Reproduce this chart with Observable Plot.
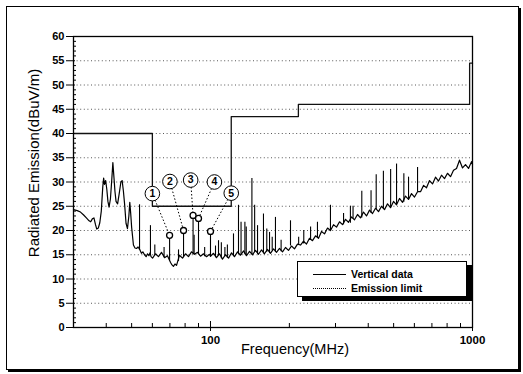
<!DOCTYPE html>
<html>
<head>
<meta charset="utf-8">
<script src="https://cdn.jsdelivr.net/npm/d3@7"></script>
<script src="https://cdn.jsdelivr.net/npm/@observablehq/plot@0.6"></script>
<style>
  html, body { margin: 0; padding: 0; background: #fff; }
  #wrap { position: relative; width: 523px; height: 374px; overflow: hidden; font-family: "Liberation Sans", Arial, sans-serif; }
  #wrap svg { position: absolute; left: 0; top: 0; }
  #border { position: absolute; left: 6px; top: 6px; width: 511px; height: 362px; border: 1px solid #000; box-shadow: 2px 2px 0 #000; }
  #legend { position: absolute; left: 297px; top: 261px; width: 168px; height: 34px; border: 1px solid #000; background: #fff; box-shadow: 5px 4px 0 #000; }
  #legend .ln { position: absolute; left: 15px; width: 33px; height: 0; }
  #legend .tx { position: absolute; left: 53px; font-size: 10.5px; font-weight: bold; line-height: 12px; color: #000; }
  [aria-label="y-axis tick label"] text, [aria-label="x-axis tick label"] text { font-weight: bold; }
</style>
</head>
<body>
<div id="wrap">
  <div id="border"></div>
  <div id="chart"></div>
  <div id="legend">
    <div class="ln" style="top:12px;border-top:1px solid #000"></div>
    <div class="tx" style="top:6px">Vertical data</div>
    <div class="ln" style="top:26px;border-top:1px dotted #000"></div>
    <div class="tx" style="top:20px">Emission limit</div>
  </div>
</div>
<script>
// ---- Data ----
const curveFreq = [
  30,31,31.9,32.8,33.6,34.4,34.9,35.4,35.9,36.4,36.8,37.3,37.8,38.3,38.8,39.1,39.4,39.8,40.2,40.6,
  41.0,41.5,42.0,42.4,42.8,43.2,43.6,44.2,44.8,45.5,46.0,46.5,47.0,47.6,48.2,48.8,49.2,49.6,50.0,50.8,
  51.5,52.2,52.9,53.8,54.5,55.2,56.0,56.8,57.5,58.2,58.8,59.3,
  60.1,61.7,63.3,65.0,66.8,68.5,70.4,71.3,72.2,73.2,74.2,75.2,76.1,78.2,80.3,82.4,84.6,86.9,89.2,91.6,
  94.0,96.6,99.1,
  100,102.7,105.4,108.2,111.1,114.1,117.2,120.3,123.5,126.8,130.2,133.7,137.2,140.9,144.7,148.5,152.5,156.6,160.7,165.0,
  169.4,174.0,178.6,183.4,188.3,193.3,198.5,203.8,209.2,214.8,
  220.6,226.5,232.5,238.7,245.1,251.7,258.4,265.3,272.4,279.7,287.1,294.8,302.7,310.8,319.1,327.6,336.3,345.3,354.5,364.0,
  373.8,383.7,394.0,404.5,415.3,426.4,437.8,449.5,461.5,473.8,486.5,499.5,512.8,526.5,540.6,555.0,569.9,585.1,600.7,616.8,
  633.3,650.2,667.5,685.4,703.7,722.5,741.8,761.6,781.9,802.8,824.3,846.3,868.9,892.1,916.0,940.4,965.6,991.4,1000
];
const curveLevel = [
  24.3,24.1,23.8,23.2,22.6,22.0,21.8,22.4,22.6,21.2,20.3,20.5,21.6,24.0,29.0,30.8,29.5,30.3,28.5,26.0,
  24.8,26.5,30.5,34.0,31.0,28.0,26.0,25.5,27.5,30.0,30.3,28.2,25.5,21.5,20.4,23.0,25.8,23.5,20.7,17.0,
  16.4,16.3,16.6,16.0,15.3,15.6,15.0,14.6,15.2,14.8,15.4,14.6,
  14.3,15.2,14.6,15.5,14.4,14.8,13.4,12.9,12.6,13.1,12.8,13.9,14.9,14.3,15.2,14.6,15.6,15.1,15.5,14.7,
  15.2,14.6,15.1,
  14.7,15.3,14.4,15.2,14.1,15.0,14.3,15.4,14.6,15.6,14.9,15.8,14.8,15.7,15.0,15.9,15.1,16.0,15.2,16.1,
  15.3,16.2,15.5,16.3,15.6,16.5,15.9,16.8,16.2,17.2,
  17.0,17.8,17.2,18.4,17.9,18.9,18.4,19.8,19.3,20.5,20.0,21.2,20.7,21.8,21.2,22.3,21.7,22.8,22.2,23.3,
  22.6,23.8,23.0,24.2,23.5,24.6,23.9,25.0,24.3,25.5,24.7,26.0,25.3,26.6,25.8,27.1,26.4,27.6,26.9,28.0,
  28.0,29.3,28.8,30.3,29.6,31.0,30.2,31.4,30.7,31.8,31.1,32.4,32.8,34.5,32.9,33.6,32.8,34.2,33.6
];
// narrow spikes: frequency, foot level, peak level
const spikeFreq = [53.6,59.0,61.3,66.5,69.8,75.5,78.9,85.8,86.6,90.0,95.0,100.0,104.5,107.3,110.0,113.5,116.0,122.4,127.9,130.8,
  135.3,136.9,143.9,147.4,151.2,159.3,164.0,168.0,172.0,177.0,186.0,202.0,217.0,227.0,241.0,256.0,287.0,322.0,342.0,350.0,
  378.0,410.0,429.0,457.0,487.0,513.0,547.0,570.0,617.0];
const spikeLow = [16.0,15.0,14.8,14.4,13.8,13.6,14.4,15.0,15.0,15.0,14.6,14.5,14.4,14.8,14.2,14.6,14.3,14.6,15.0,14.9,
  15.0,14.8,15.0,15.5,15.1,15.2,15.5,15.3,15.8,15.5,15.6,16.8,17.0,17.2,18.0,18.4,20.0,21.2,21.5,22.3,
  22.6,23.5,24.3,24.5,24.7,25.3,25.8,26.4,28.0];
const spikeHigh = [25.3,21.0,17.0,16.5,19.0,16.0,20.0,23.1,19.0,22.5,16.5,19.8,16.8,17.9,17.5,16.5,17.0,19.3,25.2,21.7,
  21.7,20.7,30.7,25.2,21.0,23.4,20.3,19.6,18.6,22.7,18.0,22.0,18.6,20.0,20.7,21.7,25.2,23.5,25.0,25.0,
  28.1,28.2,31.5,32.2,32.6,33.7,31.7,31.0,33.0];
// emission limit
const limitFreq = [30, 60, 60, 120, 120, 216.5, 216.5, 975, 975, 1000];
const limitLevel = [40, 40, 25, 25, 43.5, 43.5, 46, 46, 54.5, 54.5];
// numbered callouts
const calloutNum = ["1", "2", "3", "4", "5"];
const calloutFreq = [60, 70, 84, 103.5, 120];
const calloutLevel = [27.6, 30.1, 30.4, 30.0, 27.7];
const markerFreq = [69.8, 78.9, 85.8, 90.0, 100];
const markerLevel = [19.0, 20.0, 23.1, 22.5, 19.8];
// axes
const yTicks = [0, 5, 10, 15, 20, 25, 30, 35, 40, 45, 50, 55, 60];
const gridY = [5, 10, 15, 20, 25, 30, 35, 40, 45, 50, 55];
const yMinor = d3.range(0, 61).filter(d => d % 5 !== 0);
const xMajor = [100, 1000];
const xMinor = [40, 50, 60, 70, 80, 90, 200, 300, 400, 500, 600, 700, 800, 900];

const curve = curveFreq.map((f, i) => ({f, v: curveLevel[i]}));
const spikes = spikeFreq.map((f, i) => ({f, lo: spikeLow[i], hi: spikeHigh[i]}));
const limit = limitFreq.map((f, i) => ({f, v: limitLevel[i]}));
const callouts = calloutNum.map((n, i) => ({n, f: calloutFreq[i], v: calloutLevel[i], mf: markerFreq[i], mv: markerLevel[i]}));

const chart = Plot.plot({
  width: 523, height: 374,
  marginLeft: 73, marginRight: 51, marginTop: 36, marginBottom: 47,
  style: {fontFamily: "'Liberation Sans', Arial, sans-serif", background: "transparent", color: "#000", overflow: "visible"},
  x: {type: "log", domain: [30, 1000]},
  y: {domain: [0, 60]},
  marks: [
    Plot.ruleY(gridY, {stroke: "#444", strokeWidth: 0.9, strokeDasharray: "1,2.6"}),
    Plot.line(curve, {x: "f", y: "v", stroke: "#000", strokeWidth: 1.2}),
    Plot.ruleX(spikes, {x: "f", y1: "lo", y2: "hi", stroke: "#000", strokeWidth: 1.1}),
    Plot.line(limit, {x: "f", y: "v", stroke: "#111", strokeWidth: 1.3}),
    Plot.link(callouts, {x1: "f", y1: "v", x2: "mf", y2: "mv", stroke: "#000", strokeWidth: 1, strokeDasharray: "1.5,2"}),
    Plot.dot(callouts, {x: "mf", y: "mv", r: 3, fill: "#fff", stroke: "#000", strokeWidth: 1.3}),
    Plot.dot(callouts, {x: "f", y: "v", r: 7.3, fill: "#fff", stroke: "#000", strokeWidth: 1}),
    Plot.text(callouts, {x: "f", y: "v", text: "n", fontSize: 10.5, fontWeight: "bold", fill: "#000"}),
    Plot.frame({stroke: "#000", strokeWidth: 1.3}),
    Plot.axisY(yTicks, {tickSize: 7, tickPadding: 2, fontSize: 11, fontWeight: "bold", label: null}),
    Plot.axisY(yTicks, {tickSize: 2, dx: 2, tickFormat: () => "", label: null}),
    Plot.axisY(yMinor, {tickSize: 3, dx: 3, tickFormat: () => "", label: null}),
    Plot.axisX(xMajor, {tickSize: 4, tickPadding: 4, fontSize: 11.5, fontWeight: "bold", tickFormat: d => String(d), label: null}),
    Plot.axisX(xMajor, {tickSize: 6, dy: -6, tickFormat: () => "", label: null}),
    Plot.axisX(xMinor, {tickSize: 4, dy: -4, tickFormat: () => "", label: null}),
    Plot.text(["Radiated Emission(dBuV/m)"], {frameAnchor: "left", textAnchor: "middle", rotate: -90, dx: -39, dy: -19, fontSize: 15, fill: "#000"}),
    Plot.text(["Frequency(MHz)"], {frameAnchor: "bottom", dx: 22, dy: 26, fontSize: 14.5, fill: "#000"})
  ]
});
document.getElementById("chart").appendChild(chart);
</script>
</body>
</html>
